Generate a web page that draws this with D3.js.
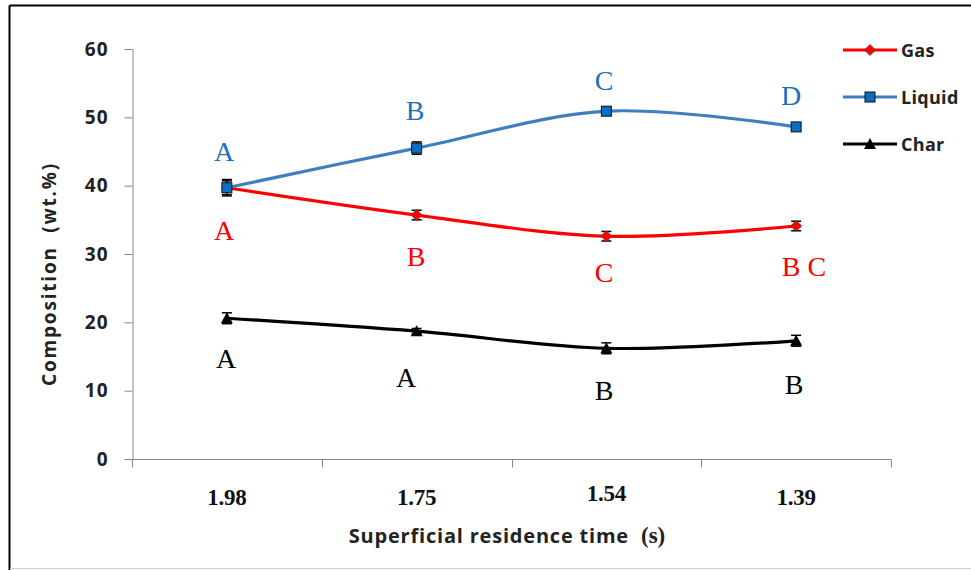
<!DOCTYPE html>
<html>
<head>
<meta charset="utf-8">
<script src="https://cdn.jsdelivr.net/npm/d3@7/dist/d3.min.js"></script>
<style>
  html, body { margin: 0; padding: 0; background: #fff; }
  svg { display: block; }
</style>
</head>
<body>
<svg id="chart" width="971" height="570"></svg>
<script>
// Residence-time categories (s)
const categories = ["1.98", "1.75", "1.54", "1.39"];

// Product yields (wt.%) and their error half-widths
const gasValues    = [39.7, 35.7, 32.6, 34.1];
const gasErrors    = [1.0, 0.7, 0.7, 0.7];
const liquidValues = [39.7, 45.5, 50.9, 48.6];
const liquidErrors = [1.2, 0.9, 0.6, 0.4];
const charValues   = [20.6, 18.7, 16.2, 17.3];
const charErrors   = [0.8, 0.4, 0.8, 0.8];

// Significance letters per point
const gasLetters    = ["A", "B", "C", "B C"];
const liquidLetters = ["A", "B", "C", "D"];
const charLetters   = ["A", "A", "B", "B"];

const yTicks = [0, 10, 20, 30, 40, 50, 60];

const svg = d3.select("#chart");
const W = 971, H = 570;
const sans = "'Open Sans', 'Liberation Sans', sans-serif";
const serif = "'Liberation Serif', 'Times New Roman', serif";

// Outer frame
svg.append("line").attr("x1", 9.5).attr("x2", W).attr("y1", 5.5).attr("y2", 5.5)
  .attr("stroke", "#000").attr("stroke-width", 2);
svg.append("line").attr("x1", 9.5).attr("x2", 9.5).attr("y1", 5.5).attr("y2", H)
  .attr("stroke", "#000").attr("stroke-width", 2);
svg.append("line").attr("x1", 10).attr("x2", W).attr("y1", 568.5).attr("y2", 568.5)
  .attr("stroke", "#d0d0d0").attr("stroke-width", 1);

const plot = { left: 132, right: 891, top: 49, bottom: 459 };

const x = d3.scaleBand().domain(categories).range([plot.left, plot.right]);
const y = d3.scaleLinear().domain([0, 60]).range([plot.bottom, plot.top]);
const cx = c => x(c) + x.bandwidth() / 2;

// Y axis
const yAxis = svg.append("g").attr("transform", `translate(${plot.left + 0.5},0)`)
  .call(d3.axisLeft(y).tickValues(yTicks).tickSize(8).tickPadding(16).tickSizeOuter(0));
yAxis.select(".domain").attr("stroke", "#868686");
yAxis.selectAll(".tick line").attr("stroke", "#868686");
yAxis.selectAll(".tick text")
  .attr("font-family", sans).attr("font-weight", "bold").attr("font-size", 19)
  .attr("letter-spacing", 1).attr("fill", "#222");

// X axis: ticks on category boundaries
const xAxisG = svg.append("g").attr("transform", `translate(0,${plot.bottom + 0.5})`);
xAxisG.append("line").attr("x1", plot.left).attr("x2", plot.right)
  .attr("stroke", "#868686");
const bounds = categories.map(c => x(c)).concat([plot.right]);
xAxisG.selectAll("line.tk").data(bounds).join("line").attr("class", "tk")
  .attr("x1", d => Math.round(d) + 0.5).attr("x2", d => Math.round(d) + 0.5)
  .attr("y1", 0).attr("y2", 8).attr("stroke", "#868686");
xAxisG.selectAll("text").data(categories).join("text")
  .attr("x", d => cx(d)).attr("y", d => d === "1.54" ? 41 : 45)
  .attr("text-anchor", "middle")
  .attr("font-family", serif).attr("font-weight", "bold").attr("font-size", 23)
  .attr("letter-spacing", -0.3).attr("fill", "#111")
  .text(d => d);

// Axis titles
svg.append("text")
  .attr("transform", `translate(56,${(plot.top + plot.bottom) / 2 + 20}) rotate(-90)`)
  .attr("text-anchor", "middle")
  .attr("font-family", sans).attr("font-weight", "bold").attr("font-size", 19)
  .attr("letter-spacing", 1.8).attr("fill", "#222")
  .text("Composition\u00a0 (wt.%)");

const xt = svg.append("text").attr("x", 507).attr("y", 543)
  .attr("text-anchor", "middle").attr("fill", "#222");
xt.append("tspan")
  .attr("font-family", sans).attr("font-weight", "bold").attr("font-size", 20)
  .attr("letter-spacing", 0.8)
  .text("Superficial residence time\u00a0\u00a0");
xt.append("tspan")
  .attr("font-family", serif).attr("font-weight", "bold").attr("font-size", 23)
  .text("(s)");

// Series definitions
const series = [
  { name: "Gas", values: gasValues, errors: gasErrors, color: "#ff0000", marker: "diamond" },
  { name: "Liquid", values: liquidValues, errors: liquidErrors, color: "#3f7fc0", marker: "square" },
  { name: "Char", values: charValues, errors: charErrors, color: "#000000", marker: "triangle" }
];

const line = d3.line().x((d, i) => cx(categories[i])).y(d => y(d))
  .curve(d3.curveCatmullRom.alpha(0));

function drawMarker(g, type, px, py) {
  if (type === "square") {
    g.append("rect").attr("x", px - 5).attr("y", py - 5).attr("width", 10).attr("height", 10)
      .attr("fill", "#0a6fc2").attr("stroke", "#111").attr("stroke-width", 1);
  } else if (type === "diamond") {
    g.append("path").attr("d", `M${px},${py - 5.5}L${px + 5.5},${py}L${px},${py + 5.5}L${px - 5.5},${py}Z`)
      .attr("fill", "#ff0000").attr("stroke", "#444").attr("stroke-width", 0.8);
  } else {
    g.append("path").attr("d", `M${px},${py - 6}L${px + 6},${py + 5}L${px - 6},${py + 5}Z`)
      .attr("fill", "#000");
  }
}

// Draw order: char, gas, liquid
[series[2], series[0], series[1]].forEach(s => {
  const g = svg.append("g");
  g.append("path").datum(s.values).attr("d", line)
    .attr("fill", "none").attr("stroke", s.color).attr("stroke-width", 3.2);
  s.values.forEach((v, i) => {
    const px = cx(categories[i]);
    const e = s.errors[i];
    const y1 = y(v + e), y2 = y(v - e);
    g.append("line").attr("x1", px).attr("x2", px).attr("y1", y1).attr("y2", y2)
      .attr("stroke", "#000").attr("stroke-width", 1);
    [y1, y2].forEach(yy => g.append("line").attr("x1", px - 5).attr("x2", px + 5)
      .attr("y1", yy).attr("y2", yy).attr("stroke", "#000").attr("stroke-width", 1.5));
    drawMarker(g, s.marker, px, y(v));
  });
});

// Significance letters
function letters(arr, color, positions) {
  arr.forEach((t, i) => {
    svg.append("text").attr("x", positions[i][0]).attr("y", positions[i][1])
      .attr("text-anchor", "middle").attr("font-family", serif)
      .attr("font-size", 28).attr("fill", color).text(t);
  });
}
letters(liquidLetters, "#1a72bd", [[224, 161], [415, 120], [604, 90], [791, 105]]);
letters(gasLetters, "#ff0000", [[224, 240], [416, 266], [604, 282], [804, 276]]);
letters(charLetters, "#000", [[226, 368], [406, 387], [604, 400], [794, 394]]);

// Legend
const legend = svg.append("g");
series.forEach((s, i) => {
  const ly = 50 + i * 47;
  legend.append("line").attr("x1", 843).attr("x2", 897).attr("y1", ly).attr("y2", ly)
    .attr("stroke", s.color).attr("stroke-width", 3);
  drawMarker(legend, s.marker, 870, ly);
  legend.append("text").attr("x", 901).attr("y", ly + 7)
    .attr("font-family", sans).attr("font-weight", "bold").attr("font-size", 18)
    .attr("letter-spacing", 0.3).attr("fill", "#222")
    .text(s.name);
});
</script>
</body>
</html>
